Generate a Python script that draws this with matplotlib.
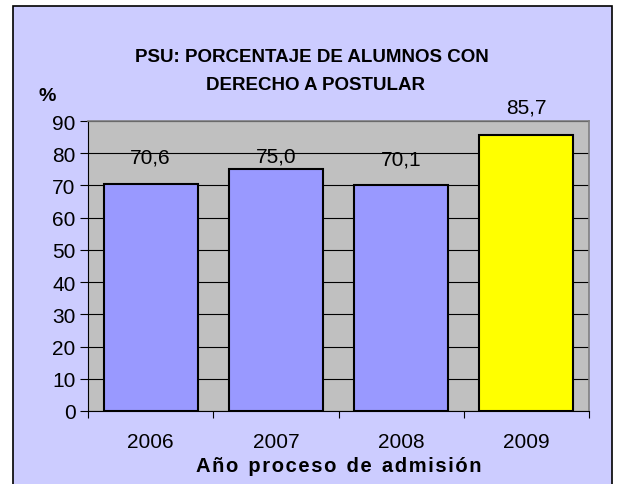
import matplotlib.pyplot as plt
from matplotlib.patches import Rectangle

years = ['2006', '2007', '2008', '2009']
values = [70.6, 75.0, 70.1, 85.7]
labels = ['70,6', '75,0', '70,1', '85,7']
label_y = [78.8, 79.1, 78.2, 94.3]
colors = ['#9999FF', '#9999FF', '#9999FF', '#FFFF00']

plt.rcParams['font.family'] = ['Liberation Sans', 'DejaVu Sans']

fig = plt.figure(figsize=(6.24, 4.85), dpi=100, facecolor='white')
W, H = 624, 485

# chart area background with black frame
fig.patches.append(Rectangle((13 / W, -0.05), (612 - 13) / W, (485 - 7) / H + 0.05,
                             transform=fig.transFigure, facecolor='#CCCCFF',
                             edgecolor='black', linewidth=1.2, zorder=-5))

ax = fig.add_axes([88 / W, 1 - 412 / H, (589 - 88) / W, (412 - 122) / H])
ax.set_facecolor('#C0C0C0')

x = range(len(years))
ax.bar(x, values, width=0.75, color=colors, edgecolor='black', linewidth=1.5, zorder=3)

for i in x:
    ax.text(i, label_y[i], labels[i], ha='center', va='center', fontsize=15)

ax.set_xlim(-0.5, 3.5)
ax.set_ylim(0, 90)
ax.set_yticks(range(0, 91, 10))
ax.yaxis.grid(True, color='black', linewidth=0.8, zorder=1)
ax.set_axisbelow(True)

# category boundaries get the tick marks, year labels sit in between
ax.set_xticks([i - 0.5 for i in range(5)])
ax.set_xticklabels([])
ax.set_xticks(list(x), minor=True)
ax.set_xticklabels(years, minor=True, fontsize=15)
ax.tick_params(axis='x', which='minor', length=0, pad=15)
ax.tick_params(axis='x', which='major', direction='out', length=5, width=0.8)
ax.tick_params(axis='y', direction='out', length=6, width=0.8, labelsize=15, pad=3)

ax.spines['top'].set_color('#808080')
ax.spines['right'].set_color('#808080')
ax.spines['left'].set_color('black')
ax.spines['bottom'].set_color('black')
ax.spines['top'].set_linewidth(1.2)
ax.spines['right'].set_linewidth(1.2)

ax.set_xlabel('A ñ o   p r o c e s o   d e   a d m i s i ó n'.replace('   ', '\u2002').replace(' ', '\u200a'),
              fontsize=14.5, fontweight='bold', labelpad=4)

fig.text(0.5, 1 - 58 / H, 'PSU: PORCENTAJE DE ALUMNOS CON', ha='center', va='center',
         fontsize=13.5, fontweight='bold')
fig.text(0.505, 1 - 86 / H, 'DERECHO A POSTULAR', ha='center', va='center',
         fontsize=13.5, fontweight='bold')
fig.text(47 / W, 1 - 97 / H, '%', ha='center', va='center', fontsize=14, fontweight='bold')

fig.savefig('out.png', dpi=100, facecolor='white')
